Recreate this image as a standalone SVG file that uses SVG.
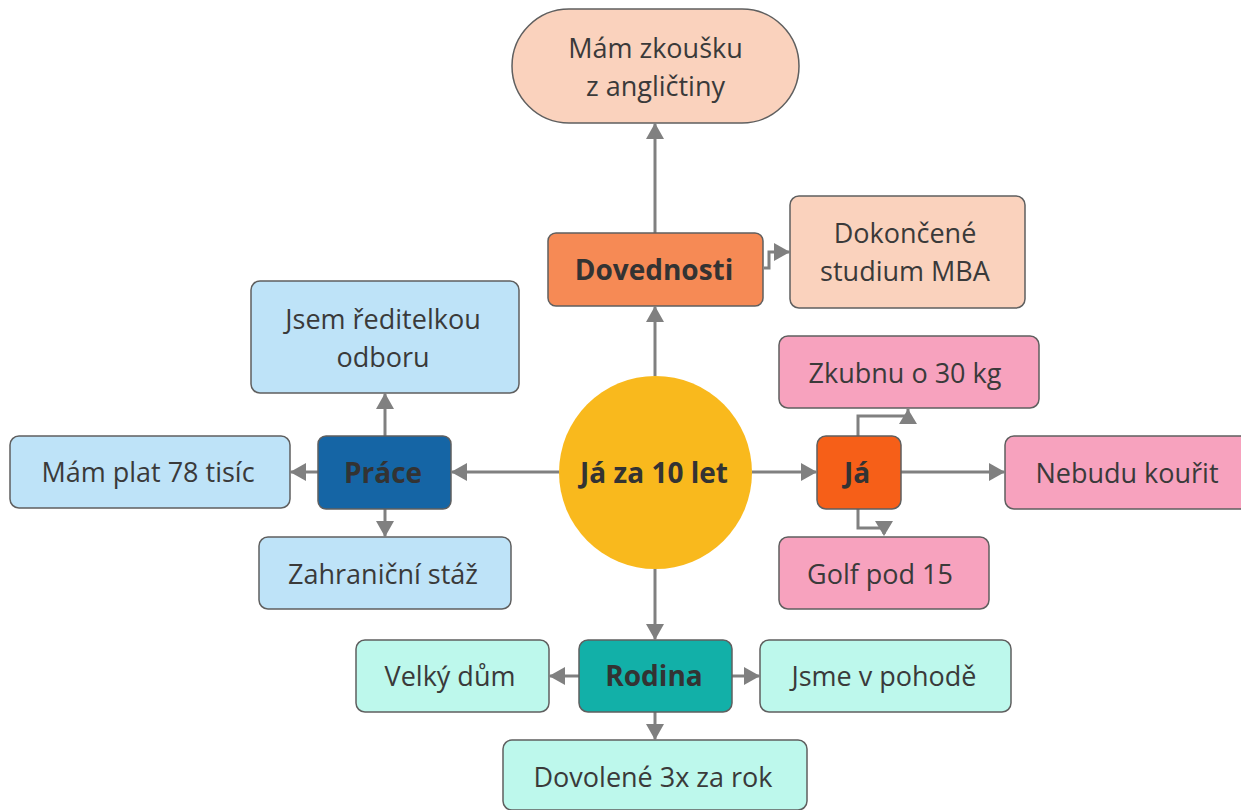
<svg xmlns="http://www.w3.org/2000/svg" width="1241" height="810" viewBox="0 0 1241 810">
<style>
.n{stroke:#5f5f5f;stroke-width:1.5}
.t{font-family:"Open Sans","Noto Sans",sans-serif;font-size:27px;fill:#3a3a3a;text-anchor:middle;dominant-baseline:central}
.b{font-weight:bold;font-size:28px;fill:#333}
.c{fill:none;stroke:#808080;stroke-width:3}
.peach{fill:#FAD2BD}.blue{fill:#BEE3F8}.pink{fill:#F7A2BE}.mint{fill:#BDF8EC}
</style>
<defs>
<marker id="ah" markerUnits="userSpaceOnUse" markerWidth="18" markerHeight="18" viewBox="0 0 16 18" refX="15" refY="9" orient="auto">
<path d="M0,0 L16,9 L0,18 Z" fill="#808080"/>
</marker>
</defs>
<g id="connectors">
<path class="c" d="M655,376 V307" marker-end="url(#ah)"/>
<path class="c" d="M655,233 V124" marker-end="url(#ah)"/>
<path class="c" d="M764,268 H769 V252 H789" marker-end="url(#ah)"/>
<path class="c" d="M559,472 H452" marker-end="url(#ah)"/>
<path class="c" d="M318,472 H291" marker-end="url(#ah)"/>
<path class="c" d="M385,436 V394" marker-end="url(#ah)"/>
<path class="c" d="M385,509 V536" marker-end="url(#ah)"/>
<path class="c" d="M752,472 H816" marker-end="url(#ah)"/>
<path class="c" d="M901,472 H1004" marker-end="url(#ah)"/>
<path class="c" d="M858,436 V416 H908 V409" />
<path d="M899,424 L908,409 L917,424 Z" fill="#808080"/>
<path class="c" d="M858,509 V528 H884 V534"/>
<path d="M875,521 L884,536 L893,521 Z" fill="#808080"/>
<path class="c" d="M655,569 V639" marker-end="url(#ah)"/>
<path class="c" d="M579,676 H550" marker-end="url(#ah)"/>
<path class="c" d="M732,676 H759" marker-end="url(#ah)"/>
<path class="c" d="M655,712 V739" marker-end="url(#ah)"/>
</g>
<g id="center">
<circle cx="655.5" cy="472.5" r="96.5" fill="#F9B91D"/>
<text class="t b" x="654" y="472">Já za 10 let</text>
</g>
<g id="zkouska">
<rect class="n peach" x="512" y="9" width="287" height="114" rx="57"/>
<text class="t" x="655.5" y="47">Mám zkoušku</text>
<text class="t" x="655.5" y="85">z angličtiny</text>
</g>
<g id="dovednosti">
<rect class="n" x="548" y="233" width="215" height="73" rx="8" fill="#F68A55"/>
<text class="t b" x="654" y="269">Dovednosti</text>
</g>
<g id="mba">
<rect class="n peach" x="790" y="196" width="235" height="112" rx="9"/>
<text class="t" x="905" y="232">Dokončené</text>
<text class="t" x="905" y="270">studium MBA</text>
</g>
<g id="reditelka">
<rect class="n blue" x="251" y="281" width="268" height="112" rx="9"/>
<text class="t" x="383" y="318">Jsem ředitelkou</text>
<text class="t" x="383" y="356">odboru</text>
</g>
<g id="prace">
<rect class="n" x="318" y="436" width="133" height="73" rx="8" fill="#1565A5"/>
<text class="t b" x="383" y="472">Práce</text>
</g>
<g id="plat">
<rect class="n blue" x="10" y="436" width="280" height="72" rx="9"/>
<text class="t" x="148" y="471">Mám plat 78 tisíc</text>
</g>
<g id="staz">
<rect class="n blue" x="259" y="537" width="252" height="72" rx="9"/>
<text class="t" x="383" y="573">Zahraniční stáž</text>
</g>
<g id="ja">
<rect class="n" x="817" y="436" width="84" height="73" rx="9" fill="#F65F18"/>
<text class="t b" x="857" y="472">Já</text>
</g>
<g id="zkubnu">
<rect class="n pink" x="779" y="336" width="260" height="72" rx="9"/>
<text class="t" x="905" y="372">Zkubnu o 30 kg</text>
</g>
<g id="koureni">
<rect class="n pink" x="1005" y="436" width="250" height="73" rx="9"/>
<text class="t" x="1127" y="472">Nebudu kouřit</text>
</g>
<g id="golf">
<rect class="n pink" x="779" y="537" width="210" height="72" rx="9"/>
<text class="t" x="880" y="573">Golf pod 15</text>
</g>
<g id="rodina">
<rect class="n" x="579" y="640" width="153" height="72" rx="9" fill="#12B0A8"/>
<text class="t b" x="654" y="675">Rodina</text>
</g>
<g id="dum">
<rect class="n mint" x="356" y="640" width="193" height="72" rx="9"/>
<text class="t" x="450" y="675">Velký dům</text>
</g>
<g id="pohoda">
<rect class="n mint" x="760" y="640" width="251" height="72" rx="9"/>
<text class="t" x="884" y="675">Jsme v pohodě</text>
</g>
<g id="dovolene">
<rect class="n mint" x="503" y="740" width="304" height="70" rx="9"/>
<text class="t" x="653" y="776">Dovolené 3x za rok</text>
</g>
</svg>
